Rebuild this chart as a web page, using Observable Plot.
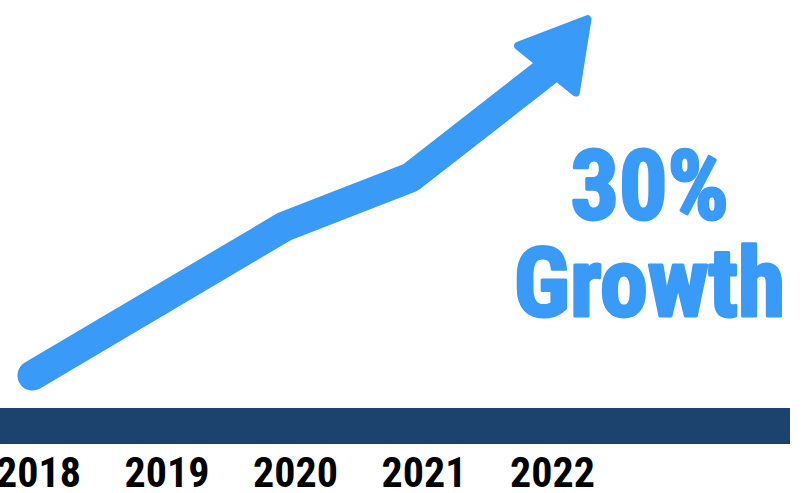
<!DOCTYPE html>
<html>
<head>
<meta charset="utf-8">
<script src="https://cdn.jsdelivr.net/npm/d3@7"></script>
<script src="https://cdn.jsdelivr.net/npm/@observablehq/plot@0.6"></script>
<style>
  html, body { margin: 0; padding: 0; background: #fff; }
  #chart svg { display: block; }
</style>
</head>
<body>
<div id="chart"></div>
<script>
// ---- data ----
const years = [2018, 2019, 2020, 2021, 2022];
const yearLabels = ["2018", "2019", "2020", "2021", "2022"];
// trend line vertices (fractional year, index value)
const trendX = [2017.953, 2019.914, 2020.895, 2022.023];
const trendY = [17.25, 54.5, 66.75, 95];
// arrow head
const headX = [2022.062];
const headY = [98];
const headAngle = [39];
// callout
const calloutText = ["30%\nGrowth"];
const calloutX = [2022.755];
const calloutY = [52];
// base band (index units)
const bandLow = [0];
const bandHigh = [9];

const BLUE = "#399af7";
const NAVY = "#1b436e";
const FONT = "'Liberation Sans Narrow', 'Arial Narrow', 'Roboto Condensed', 'DejaVu Sans Condensed', sans-serif";

const trend = trendX.map((x, i) => ({x, y: trendY[i]}));
const head = headX.map((x, i) => ({x, y: headY[i], a: headAngle[i]}));
const callout = calloutText.map((t, i) => ({t, x: calloutX[i], y: calloutY[i]}));
const band = bandLow.map((lo, i) => ({y1: lo, y2: bandHigh[i]}));

const chart = Plot.plot({
  width: 808,
  height: 493,
  marginLeft: 0,
  marginRight: 18,
  marginTop: 0,
  marginBottom: 49,
  style: {fontFamily: FONT, background: "#fff"},
  x: {domain: [2018, 2022], range: [38, 552]},
  y: {domain: [0, 100], range: [444, 44], axis: null},
  marks: [
    Plot.rect(band, {y1: "y1", y2: "y2", fill: NAVY}),
    Plot.axisX(years, {
      tickSize: 0, tickPadding: 13, fontSize: 42, fontWeight: "bold",
      tickFormat: (d) => yearLabels[years.indexOf(d)], label: null,
      fill: "#000", stroke: "#000", strokeWidth: 1.4
    }),
    Plot.line(trend, {
      x: "x", y: "y", stroke: BLUE, strokeWidth: 30,
      strokeLinejoin: "miter", strokeLinecap: "round", curve: "linear"
    }),
    Plot.dot(head, {
      x: "x", y: "y", symbol: "triangle", r: 27.6, rotate: "a",
      fill: BLUE, stroke: BLUE, strokeWidth: 8, strokeLinejoin: "round"
    }),
    Plot.text(callout, {
      x: "x", y: "y", text: "t", fontSize: 96, fontWeight: "bold",
      lineHeight: 1.01, textAnchor: "middle", fill: BLUE,
      stroke: BLUE, strokeWidth: 3
    })
  ]
});
document.getElementById("chart").appendChild(chart);
</script>
</body>
</html>
